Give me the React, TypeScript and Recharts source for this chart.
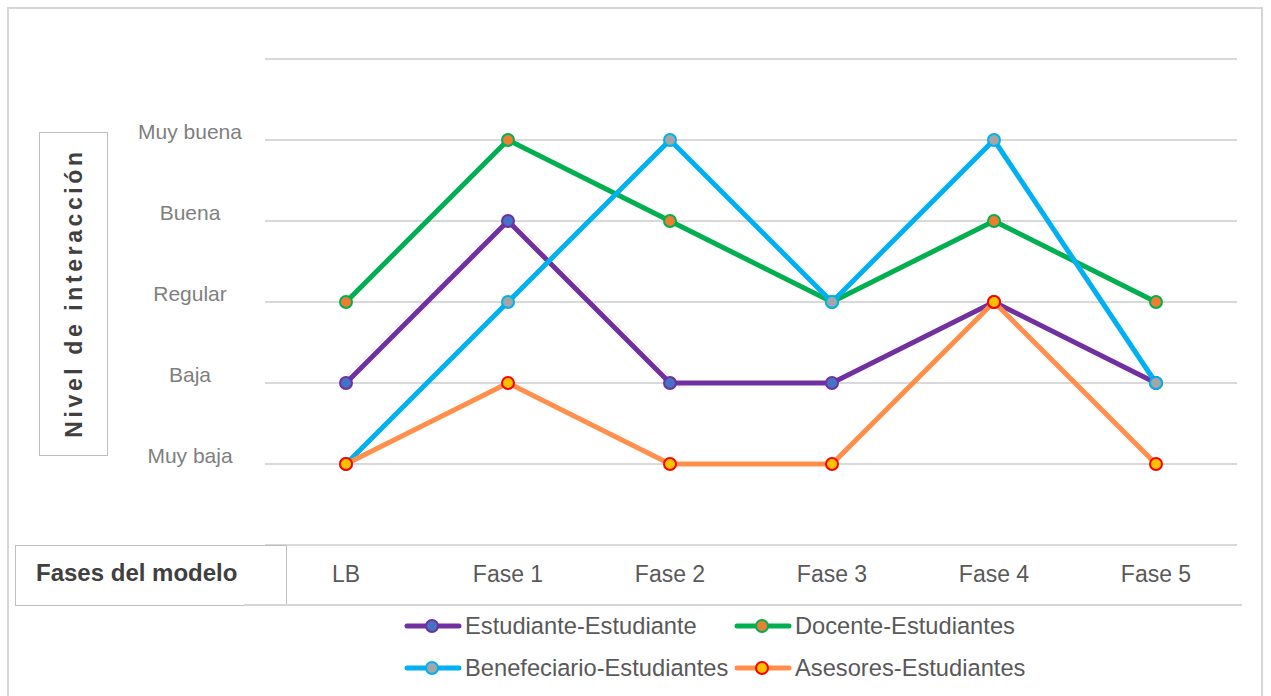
import React from 'react';
import { LineChart, Line, XAxis, YAxis, CartesianGrid } from 'recharts';

const categories = ['LB', 'Fase 1', 'Fase 2', 'Fase 3', 'Fase 4', 'Fase 5'];
const estudianteEstudiante = [2, 4, 2, 2, 3, 2];
const docenteEstudiantes = [3, 5, 4, 3, 4, 3];
const benefeciarioEstudiantes = [1, 3, 5, 3, 5, 2];
const asesoresEstudiantes = [1, 2, 1, 1, 3, 1];
const levelTicks = [0, 1, 2, 3, 4, 5, 6];
const levelLabels = ['', 'Muy baja', 'Baja', 'Regular', 'Buena', 'Muy buena', ''];

const series = [
  { key: 'ee', name: 'Estudiante-Estudiante', values: estudianteEstudiante, color: '#7030A0', dotFill: '#4472C4', dotStroke: '#7030A0' },
  { key: 'de', name: 'Docente-Estudiantes', values: docenteEstudiantes, color: '#00B050', dotFill: '#ED7D31', dotStroke: '#00B050' },
  { key: 'be', name: 'Benefeciario-Estudiantes', values: benefeciarioEstudiantes, color: '#00B0F0', dotFill: '#A5A5A5', dotStroke: '#00B0F0' },
  { key: 'ae', name: 'Asesores-Estudiantes', values: asesoresEstudiantes, color: '#FF8F4A', dotFill: '#FFC000', dotStroke: '#FF0000' },
];

const data = categories.map((c, i) => {
  const row: any = { cat: c };
  series.forEach((s) => { row[s.key] = s.values[i]; });
  return row;
});

const FONT = '"Liberation Sans", Arial, sans-serif';

const YTick = (props: any) => {
  const { x, y, payload } = props;
  return (
    <text x={x - 67} y={y - 9} textAnchor="middle" dominantBaseline="central" fill="#7F7F7F" fontSize={21} fontFamily={FONT}>
      {levelLabels[payload.value]}
    </text>
  );
};

const XTick = (props: any) => {
  const { x, y, payload } = props;
  return (
    <text x={x} y={y + 21} textAnchor="middle" dominantBaseline="central" fill="#595959" fontSize={23} fontFamily={FONT}>
      {payload.value}
    </text>
  );
};

const LegendIcon = ({ s }: any) => (
  <svg width={60} height={20} style={{ display: 'block' }}>
    <line x1={4} y1={10} x2={56} y2={10} stroke={s.color} strokeWidth={5} strokeLinecap="round" />
    <circle cx={29} cy={10} r={6} fill={s.dotFill} stroke={s.dotStroke} strokeWidth={2} />
  </svg>
);

export default function App() {
  return (
    <div style={{ position: 'absolute', left: 0, top: 0, width: 1271, height: 696, overflow: 'hidden', background: '#fff', fontFamily: FONT }}>
      <div style={{ position: 'absolute', left: 7, top: 7, width: 1256, height: 720, border: '2px solid #D6D6D6', boxSizing: 'border-box' }} />
      <div style={{ position: 'absolute', left: 0, top: 0 }}>
        <LineChart width={1271} height={696} data={data} margin={{ top: 59, right: 34, bottom: 0, left: 0 }}>
          <CartesianGrid vertical={false} stroke="#D9D9D9" strokeWidth={2} />
          <XAxis dataKey="cat" height={151} axisLine={false} tickLine={false} tick={<XTick />} padding={{ left: 81, right: 81 }} interval={0} />
          <YAxis type="number" domain={[0, 6]} ticks={levelTicks} width={265} axisLine={false} tickLine={false} tick={<YTick />} interval={0} />
          {series.map((s) => (
            <Line
              key={s.key}
              dataKey={s.key}
              name={s.name}
              type="linear"
              stroke={s.color}
              strokeWidth={5}
              dot={{ r: 6, fill: s.dotFill, stroke: s.dotStroke, strokeWidth: 2 }}
              activeDot={false}
              isAnimationActive={false}
            />
          ))}
        </LineChart>
      </div>
      {/* Y-axis title box */}
      <div style={{ position: 'absolute', left: 39, top: 132, width: 69, height: 324, border: '1.5px solid #BFBFBF', boxSizing: 'border-box', background: '#fff' }}>
        <svg width={66} height={321} style={{ display: 'block' }}>
          <text x={0} y={0} transform="translate(34,160) rotate(-90)" textAnchor="middle" dominantBaseline="central" fill="#404040" fontSize={23} fontWeight="bold" fontFamily={FONT} letterSpacing={3.6}>
            Nivel de interacción
          </text>
        </svg>
      </div>
      {/* Table under the axis */}
      <div style={{ position: 'absolute', left: 15, top: 545, width: 272, height: 61, border: '1.5px solid #BFBFBF', boxSizing: 'border-box', background: '#fff', display: 'flex', alignItems: 'center' }}>
        <span style={{ marginLeft: 20, marginTop: -6, fontSize: 24, fontWeight: 'bold', color: '#404040' }}>Fases del modelo</span>
      </div>
      <div style={{ position: 'absolute', left: 244, top: 604, width: 998, height: 0, borderTop: '2px solid #D6D6D6' }} />
      {/* Legend */}
      <div style={{ position: 'absolute', left: 403, top: 605, display: 'grid', gridTemplateColumns: '330px auto', gridAutoRows: '42px', alignItems: 'center' }}>
        {series.map((s) => (
          <div key={s.key} style={{ display: 'flex', alignItems: 'center' }}>
            <LegendIcon s={s} />
            <span style={{ fontSize: 23.7, color: '#595959', marginLeft: 2 }}>{s.name}</span>
          </div>
        ))}
      </div>
    </div>
  );
}
